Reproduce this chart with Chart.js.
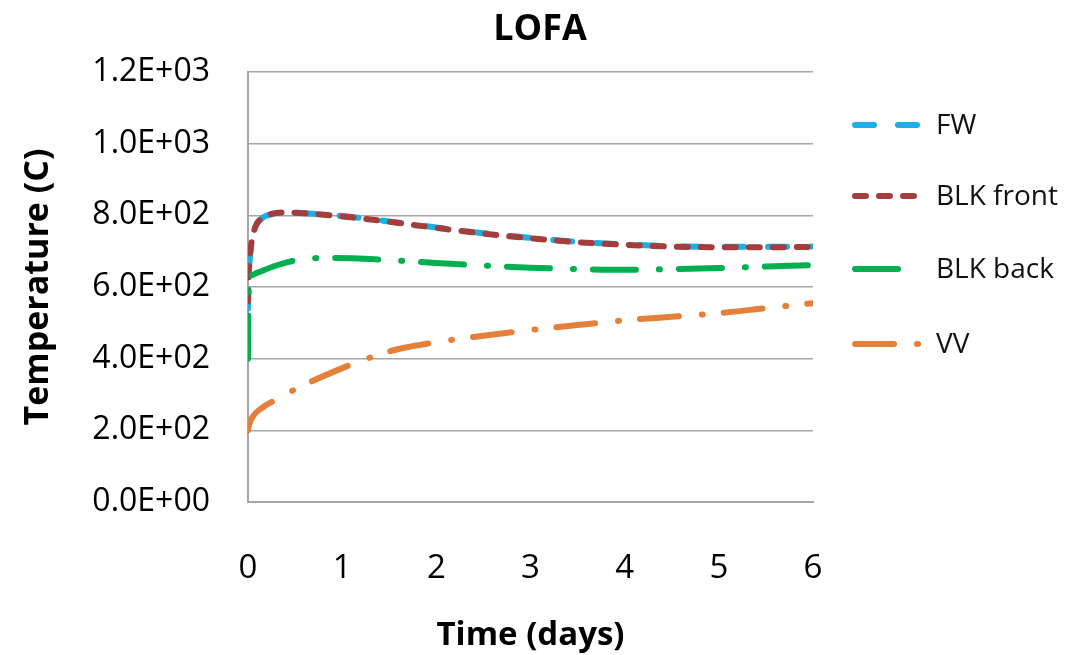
<!DOCTYPE html>
<html>
<head>
<meta charset="utf-8">
<script src="https://cdn.jsdelivr.net/npm/chart.js@4.4.0/dist/chart.umd.min.js"></script>
<style>
  html, body { margin: 0; padding: 0; background: #fff; }
  #wrap { width: 1080px; height: 655px; }
</style>
</head>
<body>
<div id="wrap"><canvas id="lofaChart"></canvas></div>
<script>
// time in days and temperature in C
const timeFW = [0, 0.01, 0.03, 0.07, 0.15, 0.25, 0.4, 0.6, 1, 1.5, 2, 2.5, 3, 3.5, 4, 4.5, 5, 5.5, 6];
const tempFW = [540, 640, 705, 760, 792, 803, 808, 806, 798, 783, 766, 750, 737, 726, 719, 714, 712, 712, 713];

const timeBlkFront = [0, 0.01, 0.03, 0.07, 0.15, 0.25, 0.4, 0.6, 1, 1.5, 2, 2.5, 3, 3.5, 4, 4.5, 5, 5.5, 6];
const tempBlkFront = [560, 650, 710, 762, 793, 804, 808, 806, 797, 782, 765, 749, 736, 725, 718, 713, 711, 711, 712];

const timeBlkBack = [0, 0.005, 0.02, 0.1, 0.3, 0.52, 0.8, 1.3, 2, 2.5, 3, 3.5, 4, 4.5, 5, 5.5, 6];
const tempBlkBack = [400, 630, 632, 640, 660, 675, 681, 678, 667, 660, 654, 650, 648, 650, 653, 657, 661];

const timeVV = [0, 0.01, 0.05, 0.15, 0.3, 0.55, 0.95, 1.22, 1.6, 2, 2.5, 3, 3.5, 4, 4.5, 5, 5.5, 6];
const tempVV = [200, 214, 238, 263, 286, 321, 368, 396, 427, 446, 464, 480, 494, 507, 517, 527, 541, 555];

const yTicks = [0, 200, 400, 600, 800, 1000, 1200];
const xTicks = [0, 1, 2, 3, 4, 5, 6];

const FONT = "'Open Sans', sans-serif";

function toPoints(xs, ys) {
    return xs.map((x, i) => ({ x: x, y: ys[i] }));
}

// Excel style scientific label, e.g. 8.0E+02
function sciLabel(v) {
    if (v === 0) return '0.0E+00';
    const exp = Math.floor(Math.log10(Math.abs(v)));
    const mant = (v / Math.pow(10, exp)).toFixed(1);
    const e = String(Math.abs(exp)).padStart(2, '0');
    return mant + 'E' + (exp < 0 ? '-' : '+') + e;
}

// title over the whole canvas and a legend on the right, using the datasets' styles
const sideLegend = {
    id: 'sideLegend',
    afterDraw(chart) {
        const ctx = chart.ctx;
        const rows = [125, 196, 269, 344];
        ctx.save();
        ctx.fillStyle = '#000';
        ctx.font = 'bold 36px ' + FONT;
        ctx.textAlign = 'center';
        ctx.textBaseline = 'middle';
        ctx.fillText('LOFA', 540, 30);

        chart.data.datasets.forEach((ds, i) => {
            const y = rows[i];
            ctx.beginPath();
            ctx.strokeStyle = ds.borderColor;
            ctx.lineWidth = ds.borderWidth;
            ctx.lineCap = 'round';
            ctx.setLineDash(ds.borderDash);
            ctx.moveTo(855, y);
            ctx.lineTo(920, y);
            ctx.stroke();
            ctx.setLineDash([]);
            ctx.fillStyle = '#111';
            ctx.font = '28px ' + FONT;
            ctx.textBaseline = 'middle';
            ctx.textAlign = 'left';
            ctx.fillText(ds.label, 936, y + 1);
        });
        ctx.restore();
    }
};

const ctx = document.getElementById('lofaChart').getContext('2d');
const chart = new Chart(ctx, {
    type: 'line',
    data: {
        datasets: [{
            label: 'FW',
            data: toPoints(timeFW, tempFW),
            borderColor: '#1AAFE6',
            borderWidth: 6,
            borderDash: [19, 24],
            borderCapStyle: 'round',
            order: 2
        }, {
            label: 'BLK front',
            data: toPoints(timeBlkFront, tempBlkFront),
            borderColor: '#A23F3C',
            borderWidth: 6,
            borderDash: [11, 13],
            borderCapStyle: 'round',
            order: 1
        }, {
            label: 'BLK back',
            data: toPoints(timeBlkBack, tempBlkBack),
            borderColor: '#00AF4F',
            borderWidth: 6,
            borderDash: [43, 23, 1, 19],
            borderCapStyle: 'round',
            order: 0
        }, {
            label: 'VV',
            data: toPoints(timeVV, tempVV),
            borderColor: '#E4803A',
            borderWidth: 6,
            borderDash: [39, 23, 1, 21],
            borderCapStyle: 'round',
            order: 0
        }]
    },
    options: {
        responsive: true,
        maintainAspectRatio: false,
        animation: false,
        cubicInterpolationMode: 'monotone',
        elements: {
            point: { radius: 0 }
        },
        layout: {
            padding: { left: 0, right: 267, top: 72, bottom: 0 }
        },
        plugins: {
            legend: { display: false },
            tooltip: { enabled: false },
            title: { display: false }
        },
        scales: {
            x: {
                type: 'linear',
                min: 0,
                max: 6,
                afterBuildTicks(scale) {
                    scale.ticks = xTicks.map(v => ({ value: v }));
                },
                afterFit(scale) {
                    scale.height = 153;
                },
                grid: { display: false, drawTicks: false },
                border: { display: true, color: '#A6A6A6', width: 2 },
                ticks: {
                    color: '#000',
                    padding: 47,
                    font: { family: FONT, size: 33 }
                },
                title: {
                    display: true,
                    text: 'Time (days)',
                    color: '#000',
                    font: { family: FONT, size: 33, weight: 'bold' },
                    padding: { top: 0, bottom: 0 }
                }
            },
            y: {
                type: 'linear',
                min: 0,
                max: 1200,
                afterBuildTicks(scale) {
                    scale.ticks = yTicks.map(v => ({ value: v }));
                },
                afterFit(scale) {
                    scale.width = 248;
                },
                grid: { color: '#A6A6A6', lineWidth: 1.5, drawTicks: false },
                border: { display: true, color: '#A6A6A6', width: 2 },
                ticks: {
                    color: '#000',
                    padding: 38,
                    font: { family: FONT, size: 32 },
                    callback: v => sciLabel(v)
                },
                title: {
                    display: true,
                    text: 'Temperature (C)',
                    color: '#000',
                    font: { family: FONT, size: 34, weight: 'bold' },
                    padding: { top: 18, bottom: 0 }
                }
            }
        }
    },
    plugins: [sideLegend]
});
</script>
</body>
</html>
